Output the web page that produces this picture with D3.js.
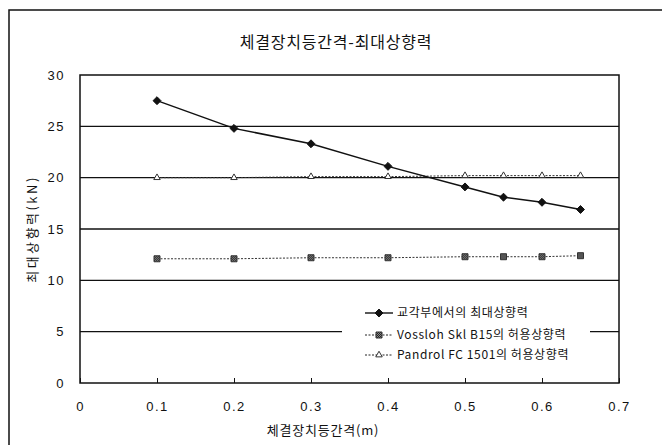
<!DOCTYPE html>
<html><head><meta charset="utf-8">
<script src="https://cdn.jsdelivr.net/npm/d3@7"></script>
<style>
html,body{margin:0;padding:0;background:#fff;}
svg{display:block;}
</style></head>
<body>
<script>
const spacing = [0.1, 0.2, 0.3, 0.4, 0.5, 0.55, 0.6, 0.65];
const maxUplift = [27.5, 24.8, 23.3, 21.1, 19.1, 18.1, 17.6, 16.9];
const vosslohAllow = [12.1, 12.1, 12.2, 12.2, 12.3, 12.3, 12.3, 12.4];
const pandrolAllow = [20.0, 20.0, 20.1, 20.1, 20.2, 20.2, 20.2, 20.2];
const xTicks = [0, 0.1, 0.2, 0.3, 0.4, 0.5, 0.6, 0.7];
const yTicks = [0, 5, 10, 15, 20, 25, 30];
const seriesNames = ["교각부에서의 최대상향력", "Vossloh Skl B15의 허용상향력", "Pandrol FC 1501의 허용상향력"];
const chartTitle = "체결장치등간격-최대상향력";
const xTitle = "체결장치등간격(m)";
const yTitle = "최대상향력(kN)";

const W = 662, H = 445;
const svg = d3.select("body").append("svg").attr("width", W).attr("height", H);
const kr = "'Noto Sans CJK KR', 'Noto Sans', sans-serif";
const num = "'Liberation Sans', Arial, sans-serif";

const defs = svg.append("defs");
const pat = defs.append("pattern").attr("id", "hatch").attr("patternUnits", "userSpaceOnUse")
  .attr("width", 2).attr("height", 2);
pat.append("rect").attr("width", 2).attr("height", 2).attr("fill", "#888");
pat.append("rect").attr("width", 1).attr("height", 1).attr("fill", "#222");
pat.append("rect").attr("x", 1).attr("y", 1).attr("width", 1).attr("height", 1).attr("fill", "#222");

// outer frame (left + top)
svg.append("path").attr("d", `M9,${H} L9,10 L${W},10`).attr("fill", "none")
  .attr("stroke", "#111").attr("stroke-width", 1.5);

const x = d3.scaleLinear().domain([0, 0.7]).range([80, 619]);
const y = d3.scaleLinear().domain([0, 30]).range([383, 75]);

svg.append("text").attr("x", 336).attr("y", 48).attr("text-anchor", "middle")
  .attr("font-family", kr).attr("font-size", 16).attr("letter-spacing", 0.8)
  .attr("fill", "#111").text(chartTitle);

svg.append("g").selectAll("line").data(yTicks.filter(d => d > 0 && d < 30)).join("line")
  .attr("x1", x(0)).attr("x2", x(0.7)).attr("y1", d => y(d)).attr("y2", d => y(d))
  .attr("stroke", "#111").attr("stroke-width", 1.3);

svg.append("rect").attr("x", x(0)).attr("y", y(30)).attr("width", x(0.7) - x(0)).attr("height", y(0) - y(30))
  .attr("fill", "none").attr("stroke", "#111").attr("stroke-width", 1.5);

const xAxis = d3.axisBottom(x).tickValues(xTicks).tickSize(-5).tickPadding(19)
  .tickFormat(d => d === 0 ? "0" : d3.format(".1f")(d));
const gx = svg.append("g").attr("transform", `translate(0,${y(0)})`).call(xAxis);
gx.select(".domain").remove();
gx.selectAll(".tick line").attr("stroke", "#111");
gx.selectAll("text").attr("font-family", num).attr("font-size", 13).attr("letter-spacing", 1.5).attr("fill", "#111");

const yAxis = d3.axisLeft(y).tickValues(yTicks).tickSize(0).tickPadding(15);
const gy = svg.append("g").attr("transform", `translate(${x(0)},0)`).call(yAxis);
gy.select(".domain").remove();
gy.selectAll("text").attr("font-family", num).attr("font-size", 13).attr("letter-spacing", 1.5).attr("fill", "#111");

svg.append("text").attr("x", 323).attr("y", 435).attr("text-anchor", "middle")
  .attr("font-family", kr).attr("font-size", 13).attr("letter-spacing", 0.8).attr("fill", "#111").text(xTitle);
svg.append("text").attr("transform", "translate(37,229) rotate(-90)").attr("text-anchor", "middle")
  .attr("font-family", kr).attr("font-size", 13).attr("letter-spacing", 2.5).attr("fill", "#111").text(yTitle);

const line = d3.line().x(d => x(d[0])).y(d => y(d[1]));
const s1 = spacing.map((v, i) => [v, maxUplift[i]]);
const s2 = spacing.map((v, i) => [v, vosslohAllow[i]]);
const s3 = spacing.map((v, i) => [v, pandrolAllow[i]]);

svg.append("path").attr("d", line(s3)).attr("fill", "none").attr("stroke", "#333")
  .attr("stroke-width", 1).attr("stroke-dasharray", "2,1.5");
svg.append("path").attr("d", line(s2)).attr("fill", "none").attr("stroke", "#333")
  .attr("stroke-width", 1).attr("stroke-dasharray", "2,1.5");
svg.append("path").attr("d", line(s1)).attr("fill", "none").attr("stroke", "#111")
  .attr("stroke-width", 1.5);

const diamond = d3.symbol().type(d3.symbolDiamond2).size(40);
const square = d3.symbol().type(d3.symbolSquare).size(36);
const tri = d3.symbol().type(d3.symbolTriangle2).size(30);

function markers(data, sym, fill, stroke) {
  svg.append("g").selectAll("path").data(data).join("path")
    .attr("transform", d => `translate(${x(d[0])},${y(d[1])})`)
    .attr("d", sym).attr("fill", fill).attr("stroke", stroke).attr("stroke-width", 1);
}
markers(s3, tri, "#fff", "#333");
markers(s2, square, "url(#hatch)", "#333");
markers(s1, diamond, "#111", "#111");

const lg = svg.append("g");
lg.append("rect").attr("x", 342).attr("y", 296).attr("width", 248).attr("height", 76).attr("fill", "#fff");
const rowsY = [313, 335, 355];
const syms = [[diamond, "#111", "#111", null, 1.5], [square, "url(#hatch)", "#333", "2,1.5", 1], [tri, "#fff", "#333", "2,1.5", 1]];
rowsY.forEach((ry, i) => {
  lg.append("line").attr("x1", 365).attr("x2", 393).attr("y1", ry).attr("y2", ry)
    .attr("stroke", "#222").attr("stroke-width", syms[i][4]).attr("stroke-dasharray", syms[i][3]);
  lg.append("path").attr("transform", `translate(379,${ry})`).attr("d", syms[i][0])
    .attr("fill", syms[i][1]).attr("stroke", syms[i][2]);
  lg.append("text").attr("x", 397).attr("y", ry).attr("dy", "0.35em")
    .attr("font-family", kr).attr("font-size", 12).attr("letter-spacing", 0.6)
    .attr("fill", "#111").text(seriesNames[i]);
});
</script>
</body></html>
